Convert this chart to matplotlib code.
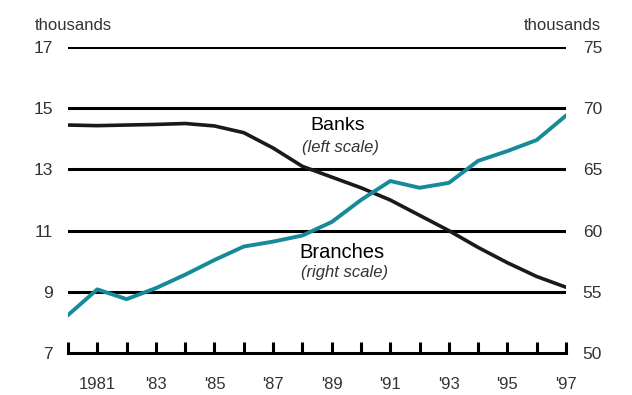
import matplotlib.pyplot as plt

plt.rcParams['font.family'] = ['Liberation Sans', 'DejaVu Sans']

years = list(range(1980, 1998))
banks = [14.45, 14.43, 14.45, 14.47, 14.5, 14.42, 14.2, 13.7, 13.1, 12.75,
         12.4, 12.0, 11.5, 11.0, 10.45, 9.95, 9.5, 9.15]
branches = [53.1, 55.2, 54.4, 55.3, 56.4, 57.6, 58.7, 59.1, 59.6, 60.7,
            62.5, 64.05, 63.5, 63.9, 65.7, 66.5, 67.4, 69.4]

left_ticks = [7, 9, 11, 13, 15, 17]
right_ticks = [50, 55, 60, 65, 70, 75]
year_labels = ["", "1981", "", "'83", "", "'85", "", "'87", "", "'89",
               "", "'91", "", "'93", "", "'95", "", "'97"]

fig = plt.figure(figsize=(6.32, 3.95), dpi=100)
ax = fig.add_axes([0.1076, 0.1063, 0.788, 0.7747])
ax2 = ax.twinx()

for y in left_ticks[1:]:
    ax.axhline(y, color="black", lw=2.2, zorder=1)

ax.plot(years, banks, color="#1a1a1a", lw=2.6, zorder=3)
ax2.plot(years, branches, color="#178a99", lw=2.8, zorder=3)

ax.set_xlim(1980, 1997)
ax.set_ylim(7, 17)
ax2.set_ylim(50, 75)

ax.set_yticks(left_ticks)
ax2.set_yticks(right_ticks)
ax.tick_params(axis="y", length=0, pad=11, labelsize=12.5, labelcolor="#333333")
ax2.tick_params(axis="y", length=0, pad=12, labelsize=12.5, labelcolor="#333333")

ax.set_xticks(years, labels=year_labels)
ax.tick_params(axis="x", direction="in", length=8, width=2.2, color="black",
               pad=17, labelsize=12, labelcolor="#333333")

for a in (ax, ax2):
    for s in ("top", "left", "right"):
        a.spines[s].set_visible(False)
    a.spines["bottom"].set_linewidth(2.2)
ax2.spines["bottom"].set_visible(False)

ax.text(1989.2, 14.45, "Banks", ha="center", va="center", fontsize=14)
ax.text(1989.3, 13.72, "(left scale)", ha="center", va="center", fontsize=12,
        style="italic", color="#333333")
ax.text(1989.35, 10.3, "Branches", ha="center", va="center", fontsize=14.5)
ax.text(1989.45, 9.62, "(right scale)", ha="center", va="center", fontsize=12,
        style="italic", color="#333333")

fig.text(0.055, 0.935, "thousands", ha="left", va="center", fontsize=12, color="#333333")
fig.text(0.95, 0.935, "thousands", ha="right", va="center", fontsize=12, color="#333333")

fig.savefig("out.png", dpi=100)
